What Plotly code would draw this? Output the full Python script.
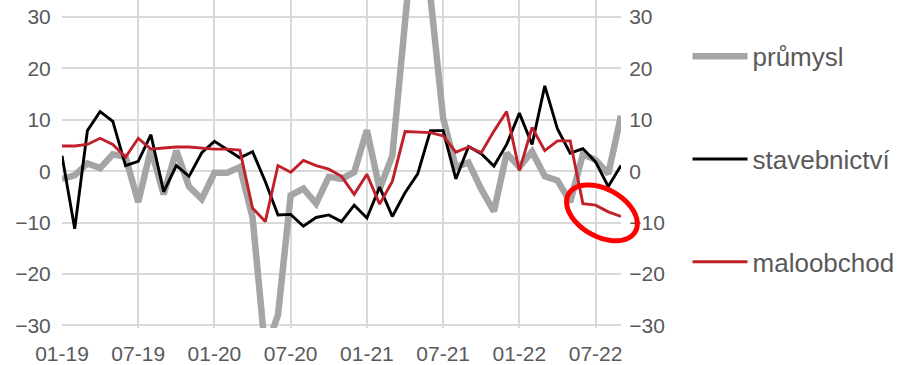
import math
import pandas as pd
import plotly.graph_objects as go

# Monthly categories 01-19 .. 09-22
months = list(pd.date_range("2019-01-01", periods=45, freq="MS").strftime("%m-%y"))
tick_labels = ["01-19", "07-19", "01-20", "07-20", "01-21", "07-21", "01-22", "07-22"]
y_ticks = [-30, -20, -10, 0, 10, 20, 30]

prumysl = [-1.5, -0.8, 1.5, 0.6, 3.3, 2.8, -6.0, 4.3, -4.5, 4.0,
           -3.0, -5.4, -0.3, -0.3, 0.8, -9.0, -35.0, -28.0, -4.7, -3.4,
           -6.3, -1.1, -1.5, -0.2, 8.0, -3.5, 3.0, 25.0, 55.0, 34.0,
           10.3, 0.8, 1.7, -3.5, -7.8, 3.5, 0.8, 3.8, -1.0, -1.8,
           -6.0, 3.3, 2.2, -0.5, 10.8]
stavebnictvi = [3.0, -11.2, 7.9, 11.6, 9.7, 1.1, 1.9, 7.1, -4.0, 1.1,
                -1.0, 3.6, 5.8, 4.2, 2.6, 3.8, -2.0, -8.5, -8.4, -10.7,
                -9.0, -8.5, -9.8, -6.6, -9.1, -3.1, -8.8, -4.2, -0.5, 7.9,
                7.9, -1.5, 4.8, 3.4, 1.0, 5.2, 11.3, 5.2, 16.6, 8.2,
                3.5, 4.4, 1.8, -3.0, 1.1]
maloobchod = [4.9, 4.9, 5.2, 6.4, 5.2, 2.7, 6.4, 4.3, 4.5, 4.7,
              4.7, 4.5, 4.3, 4.3, 4.1, -7.2, -9.8, 1.1, -0.2, 2.1,
              1.1, 0.4, -1.0, -4.5, -0.6, -6.4, -2.0, 7.7, 7.6, 7.5,
              6.9, 3.7, 4.7, 3.6, 7.8, 11.6, 0.1, 8.5, 4.0, 5.9,
              5.9, -6.3, -6.6, -7.9, -8.8]

# Geometry of the plotting area
W, H = 900, 365
ML, MR, MT, MB = 62, 278, 0, 32
Y_RANGE = [-30.5, 33.3]
X_RANGE = [0, len(months) - 1]
PW, PH = W - ML - MR, H - MT - MB

FONT = "Arial, Liberation Sans, sans-serif"
TXT = "#595959"
GRID = "#D9D9D9"

fig = go.Figure()
series = [
    ("průmysl", prumysl, "#A5A5A5", 6.5),
    ("stavebnictví", stavebnictvi, "#000000", 2.9),
    ("maloobchod", maloobchod, "#C0202A", 2.9),
]
for name, vals, color, width in series:
    fig.add_trace(go.Scatter(
        x=months, y=vals, name=name, mode="lines", legendgroup=name,
        line=dict(color=color, width=width), hoverinfo="skip",
    ))

# Phantom trace so the right-hand axis is rendered
fig.add_trace(go.Scatter(x=[months[0]], y=[None], yaxis="y2",
                         showlegend=False, hoverinfo="skip"))


def to_paper(xi, yv):
    px = (xi - X_RANGE[0]) / (X_RANGE[1] - X_RANGE[0])
    py = (yv - Y_RANGE[0]) / (Y_RANGE[1] - Y_RANGE[0])
    return px, py


# White bands masking the vertical grid beyond the +-30 ticks
for y0, y1 in [(30, Y_RANGE[1]), (Y_RANGE[0], -30)]:
    fig.add_shape(type="rect", xref="paper", yref="y", x0=0, x1=1, y0=y0, y1=y1,
                  fillcolor="white", line=dict(width=0), layer="between")

# Tilted red ellipse highlighting the latest retail readings
cx_i, cy_v = 42.5, -8.1
cxp, cyp = to_paper(cx_i, cy_v)
cx_px, cy_px = ML + cxp * PW, MT + (1 - cyp) * PH
a, b, th = 38.5, 24.0, math.radians(30)
pts = []
for k in range(73):
    t = 2 * math.pi * k / 72
    px = cx_px + a * math.cos(t) * math.cos(th) - b * math.sin(t) * math.sin(th)
    py = cy_px + a * math.cos(t) * math.sin(th) + b * math.sin(t) * math.cos(th)
    pts.append(((px - ML) / PW, 1 - (py - MT) / PH))
path = "M" + " L".join(f"{x:.5f},{y:.5f}" for x, y in pts) + " Z"
fig.add_shape(type="path", xref="paper", yref="paper", path=path,
              line=dict(color="#FF0000", width=5), layer="above")

axis_font = dict(family=FONT, size=21, color=TXT)
fig.update_layout(
    width=W, height=H,
    margin=dict(l=ML, r=MR, t=MT, b=MB),
    paper_bgcolor="white", plot_bgcolor="white",
    showlegend=True,
    legend=dict(
        x=1.119, xanchor="left", y=0.90, yanchor="top",
        font=dict(family=FONT, size=26, color=TXT),
        tracegroupgap=66, itemwidth=55, bgcolor="rgba(0,0,0,0)",
    ),
    xaxis=dict(
        type="category", range=X_RANGE,
        tickmode="array", tickvals=tick_labels, ticktext=tick_labels,
        showgrid=True, gridcolor=GRID, gridwidth=1.5,
        ticks="outside", ticklen=7, tickcolor="rgba(0,0,0,0)",
        tickfont=axis_font, zeroline=False, showline=False,
    ),
    yaxis=dict(
        range=Y_RANGE, tickmode="array", tickvals=y_ticks,
        showgrid=True, gridcolor=GRID, gridwidth=1.5,
        ticks="outside", ticklen=6, tickcolor="rgba(0,0,0,0)",
        tickfont=axis_font, zeroline=False, showline=False,
    ),
    yaxis2=dict(
        range=Y_RANGE, tickmode="array", tickvals=y_ticks,
        overlaying="y", side="right", showgrid=False, zeroline=False,
        ticks="outside", ticklen=3, tickcolor="rgba(0,0,0,0)",
        tickfont=axis_font, showline=False,
    ),
)

fig.write_html("out.html")
